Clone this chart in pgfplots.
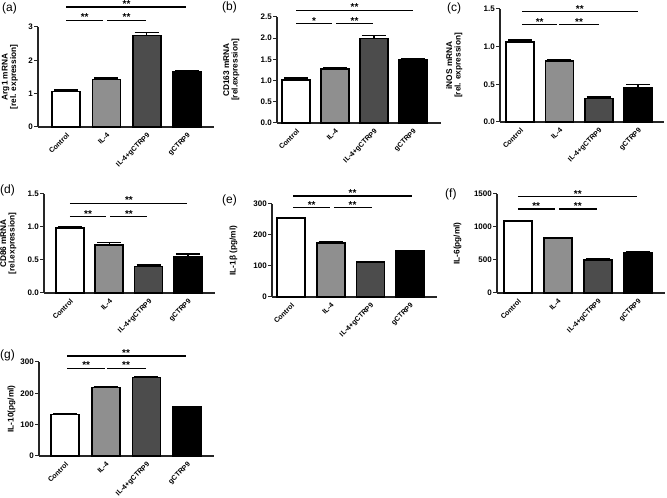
\documentclass[border=0pt]{standalone}
\usepackage{fontspec}
\setmainfont{Liberation Sans}
\usepackage{pgfplots}
\pgfplotsset{compat=1.18}
\definecolor{cA}{rgb}{0.56,0.56,0.56}
\definecolor{cB}{rgb}{0.30,0.30,0.30}
\newcommand{\fs}{\bfseries\fontsize{7.1}{7.5}\selectfont}
\newcommand{\fy}{\bfseries\fontsize{8}{8}\selectfont}
\newcommand{\fl}{\bfseries\fontsize{8.3}{8.3}\selectfont}
\tikzset{st/.style={anchor=base, yshift=-0.6pt, font=\bfseries\fontsize{10}{10}\selectfont, inner sep=0pt},
 pl/.style={anchor=west, font=\fontsize{12}{13}\selectfont, inner sep=0pt}}
\pgfplotsset{
 panel/.style={scale only axis, anchor=south west, axis x line=bottom, axis y line=left,
  axis line style={line width=1.3pt,-,black!85}, ymin=0, xtick={0,1,2,3},
  xticklabels={Control,IL-4,IL-4+gCTRP9,gCTRP9},
  xticklabel style={rotate=45, anchor=north east, font=\fs, inner sep=0.8pt},
  yticklabel style={font=\fy, inner sep=1pt},
  xtick style={draw=none}, ytick style={line width=1pt, black!85},
  tick align=outside, major tick length=4pt, clip=false,
  every axis y label/.style={rotate=90, anchor=south, font=\fl, align=center, inner sep=0pt},
 },
 barst/.style={ybar, bar width=28pt, bar shift=0pt, draw=black, line width=1.6pt,
   error bars/y dir=plus, error bars/y explicit, error bars/error bar style={line width=1.3pt, black},
   error bars/error mark options={rotate=90, mark size=12pt, line width=1.3pt, black}},
 sigst/.style={black, line width=1.2pt, mark=none, forget plot},
}
\begin{document}
\begin{tikzpicture}
\path[use as bounding box] (0,0) rectangle (667pt,498pt);
% (a)
\begin{axis}[panel, at={(38pt,371pt)}, width=176pt, height=100pt,
  xmin=-0.70, xmax=3.67, ymax=3, ytick={0,1,2,3}, yticklabels={0,1,2,3},
  ylabel={Arg1 mRNA\\{[rel. expression]}}, ylabel style={at={(axis description cs:-0.114,0.5)}}]
\addplot[barst, fill=white] coordinates {(0,1.06) +- (0,0.05)};
\addplot[barst, fill=cA] coordinates {(1,1.42) +- (0,0.05)};
\addplot[barst, fill=cB] coordinates {(2,2.75) +- (0,0.08)};
\addplot[barst, fill=black] coordinates {(3,1.67) +- (0,0.02)};
\addplot[sigst] coordinates {(0,3.2) (0.92,3.2)};
\addplot[sigst] coordinates {(1.02,3.2) (1.99,3.2)};
\addplot[sigst] coordinates {(0,3.6) (2.98,3.6)};
\node[st] at (axis cs:0.46,3.2) {**};
\node[st] at (axis cs:1.5,3.2) {**};
\node[st] at (axis cs:1.5,3.6) {**};
\end{axis}
% (b)
\begin{axis}[panel, at={(277pt,375pt)}, width=164pt, height=106pt,
  xmin=-0.49, xmax=3.72, ymax=2.5, ytick={0,0.5,1,1.5,2,2.5}, yticklabels={0.0,0.5,1.0,1.5,2.0,2.5},
  ylabel={CD163 mRNA\\{[rel.expression]}}, ylabel style={at={(axis description cs:-0.229,0.5)}}]
\addplot[barst, fill=white] coordinates {(0,1.01) +- (0,0.05)};
\addplot[barst, fill=cA] coordinates {(1,1.27) +- (0,0.03)};
\addplot[barst, fill=cB] coordinates {(2,1.99) +- (0,0.08)};
\addplot[barst, fill=black] coordinates {(3,1.48) +- (0,0.03)};
\addplot[sigst] coordinates {(0,2.34) (0.92,2.34)};
\addplot[sigst] coordinates {(1.03,2.34) (1.97,2.34)};
\addplot[sigst] coordinates {(0,2.66) (3,2.66)};
\node[st] at (axis cs:0.46,2.34) {*};
\node[st] at (axis cs:1.5,2.34) {**};
\node[st] at (axis cs:1.5,2.66) {**};
\end{axis}
% (c)
\begin{axis}[panel, at={(500pt,376pt)}, width=164pt, height=113pt,
  xmin=-0.51, xmax=3.66, ymax=1.5, ytick={0,0.5,1,1.5}, yticklabels={0.0,0.5,1.0,1.5},
  ylabel={iNOS mRNA\\{[rel. expression]}}, ylabel style={at={(axis description cs:-0.229,0.5)}}]
\addplot[barst, fill=white] coordinates {(0,1.06) +- (0,0.03)};
\addplot[barst, fill=cA] coordinates {(1,0.81) +- (0,0.02)};
\addplot[barst, fill=cB] coordinates {(2,0.31) +- (0,0.02)};
\addplot[barst, fill=black] coordinates {(3,0.45) +- (0,0.05)};
\addplot[sigst] coordinates {(0.05,1.29) (0.94,1.29)};
\addplot[sigst] coordinates {(1.0,1.29) (2.0,1.29)};
\addplot[sigst] coordinates {(0.05,1.465) (3,1.465)};
\node[st] at (axis cs:0.5,1.29) {**};
\node[st] at (axis cs:1.5,1.29) {**};
\node[st] at (axis cs:1.52,1.465) {**};
\end{axis}
% (d)
\begin{axis}[panel, at={(44pt,205pt)}, width=171pt, height=99pt,
  xmin=-0.66, xmax=3.69, ymax=1.5, ytick={0,0.5,1,1.5}, yticklabels={0.0,0.5,1.0,1.5},
  ylabel={CD86 mRNA\\{[rel.expression]}}, ylabel style={at={(axis description cs:-0.161,0.5)}}]
\addplot[barst, fill=white] coordinates {(0,0.985) +- (0,0.015)};
\addplot[barst, fill=cA] coordinates {(1,0.73) +- (0,0.035)};
\addplot[barst, fill=cB] coordinates {(2,0.40) +- (0,0.025)};
\addplot[barst, fill=black] coordinates {(3,0.555) +- (0,0.035)};
\addplot[sigst] coordinates {(0,1.16) (0.92,1.16)};
\addplot[sigst] coordinates {(1.02,1.16) (1.97,1.16)};
\addplot[sigst] coordinates {(0,1.36) (2.97,1.36)};
\node[st] at (axis cs:0.46,1.16) {**};
\node[st] at (axis cs:1.5,1.16) {**};
\node[st] at (axis cs:1.5,1.36) {**};
\end{axis}
% (e)
\begin{axis}[panel, at={(272pt,201pt)}, width=165pt, height=93pt,
  xmin=-0.48, xmax=3.68, ymax=300, ytick={0,100,200,300}, yticklabels={0,100,200,300},
  ylabel={IL-1β (pg/ml)}, ylabel style={at={(axis description cs:-0.209,0.5)}}]
\addplot[barst, fill=white] coordinates {(0,254) +- (0,3)};
\addplot[barst, fill=cA] coordinates {(1,174) +- (0,3)};
\addplot[barst, fill=cB] coordinates {(2,112) +- (0,3)};
\addplot[barst, fill=black] coordinates {(3,148) +- (0,3)};
\addplot[sigst] coordinates {(0.05,288) (0.98,288)};
\addplot[sigst] coordinates {(1.08,288) (2.03,288)};
\addplot[sigst] coordinates {(0.05,326) (3.05,326)};
\node[st] at (axis cs:0.52,288) {**};
\node[st] at (axis cs:1.55,288) {**};
\node[st] at (axis cs:1.55,326) {**};
\end{axis}
% (f)
\begin{axis}[panel, at={(497pt,205pt)}, width=168pt, height=99pt,
  xmin=-0.52, xmax=3.68, ymax=1500, ytick={0,500,1000,1500}, yticklabels={0,500,1000,1500},
  ylabel={IL-6(pg/ml)}, ylabel style={at={(axis description cs:-0.211,0.5)}}]
\addplot[barst, fill=white] coordinates {(0,1088) +- (0,14)};
\addplot[barst, fill=cA] coordinates {(1,834) +- (0,10)};
\addplot[barst, fill=cB] coordinates {(2,497) +- (0,18)};
\addplot[barst, fill=black] coordinates {(3,606) +- (0,14)};
\addplot[sigst] coordinates {(0,1273) (0.93,1273)};
\addplot[sigst] coordinates {(1.03,1273) (1.98,1273)};
\addplot[sigst] coordinates {(0,1460) (2.98,1460)};
\node[st] at (axis cs:0.46,1273) {**};
\node[st] at (axis cs:1.5,1273) {**};
\node[st] at (axis cs:1.5,1460) {**};
\end{axis}
% (g)
\begin{axis}[panel, at={(39pt,42pt)}, width=175pt, height=94pt,
  xmin=-0.64, xmax=3.66, ymax=300, ytick={0,100,200,300}, yticklabels={0,100,200,300},
  ylabel={IL-10(pg/ml)}, ylabel style={at={(axis description cs:-0.134,0.5)}}]
\addplot[barst, fill=white] coordinates {(0,132) +- (0,3)};
\addplot[barst, fill=cA] coordinates {(1,219) +- (0,3)};
\addplot[barst, fill=cB] coordinates {(2,250) +- (0,3)};
\addplot[barst, fill=black] coordinates {(3,156) +- (0,2)};
\addplot[sigst] coordinates {(0.05,280) (0.98,280)};
\addplot[sigst] coordinates {(1.03,280) (1.98,280)};
\addplot[sigst] coordinates {(0.05,319) (2.97,319)};
\node[st] at (axis cs:0.52,280) {**};
\node[st] at (axis cs:1.5,280) {**};
\node[st] at (axis cs:1.5,319) {**};
\end{axis}
% panel letters
\node[pl] at (2pt,490pt) {(a)};
\node[pl] at (222pt,491pt) {(b)};
\node[pl] at (447pt,490pt) {(c)};
\node[pl] at (0pt,308pt) {(d)};
\node[pl] at (222pt,298pt) {(e)};
\node[pl] at (445pt,304pt) {(f)};
\node[pl] at (0pt,143pt) {(g)};
\end{tikzpicture}
\end{document}
